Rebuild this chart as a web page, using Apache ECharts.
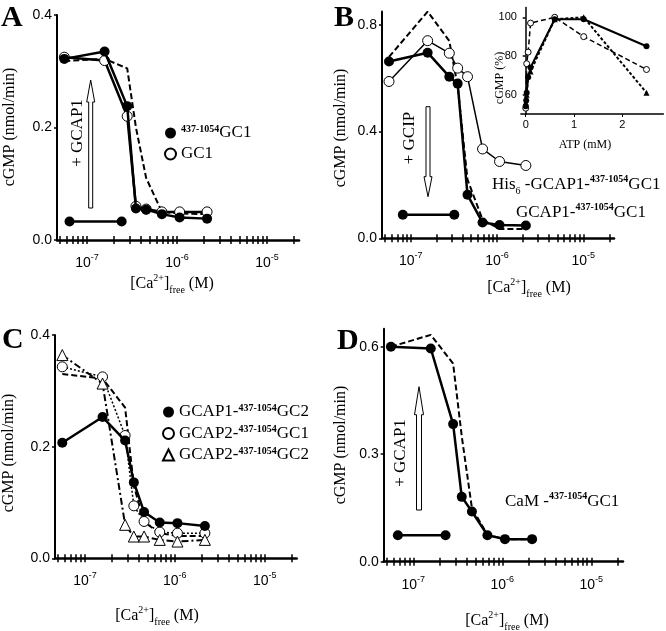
<!DOCTYPE html>
<html>
<head>
<meta charset="utf-8">
<script src="https://cdn.jsdelivr.net/npm/echarts@6/dist/echarts.min.js"></script>
<style>
html, body { margin: 0; padding: 0; background: #fff; }
#chart { width: 666px; height: 631px; }
</style>
</head>
<body>
<div id="chart"></div>
<script>
// free Ca2+ (M), shared by the four dose-response panels
var caFree = [5.6e-8, 1.57e-7, 2.8e-7, 3.5e-7, 4.55e-7, 6.8e-7, 1.07e-6, 2.16e-6];

// panel A
var aTruncGC1 = [0.322, 0.335, 0.238, 0.056, 0.054, 0.046, 0.040, 0.038];
var aGC1 = [0.325, 0.319, 0.220, 0.060, 0.055, 0.050, 0.050, 0.050];
var aDashed = [0.318, 0.322, 0.305, 0.200, 0.110, 0.050, 0.047, 0.046];
var aNoGcapCa = [6.4e-8, 2.43e-7];
var aNoGcap = [0.033, 0.033];

// panel B
var bGcap1 = [0.663, 0.696, 0.606, 0.580, 0.163, 0.059, 0.050, 0.048];
var bHis6 = [0.588, 0.741, 0.694, 0.638, 0.606, 0.335, 0.288, 0.273];
var bDashed = [0.680, 0.850, 0.740, 0.570, 0.220, 0.070, 0.035, 0.035];
var bNoGcipCa = [8.1e-8, 3.2e-7];
var bNoGcip = [0.088, 0.088];

// panel B inset: ATP (mM) vs cGMP (%)
var atpFilled = [0, 0.01, 0.02, 0.05, 0.1, 0.6, 1.2, 2.5];
var insetFilled = [54, 57, 61, 69, 74, 99, 99, 85];
var atpOpen = [0, 0.02, 0.05, 0.1, 0.6, 1.2, 2.5];
var insetOpen = [53, 76, 82, 97, 100, 90, 73];
var atpTri = [0, 0.02, 0.05, 0.1, 0.6, 1.2, 2.5];
var insetTri = [56, 60, 70, 72, 99, 100, 61];

// panel C
var cGcap1GC2 = [0.207, 0.253, 0.211, 0.136, 0.083, 0.064, 0.063, 0.058];
var cGcap2GC1 = [0.343, 0.325, 0.220, 0.094, 0.066, 0.047, 0.045, 0.045];
var cGcap2GC2 = [0.364, 0.313, 0.060, 0.039, 0.039, 0.033, 0.030, 0.033];
var cDashed = [0.330, 0.322, 0.270, 0.130, 0.065, 0.045, 0.040, 0.040];

// panel D
var dCaM = [0.600, 0.595, 0.384, 0.181, 0.140, 0.074, 0.063, 0.063];
var dDashed = [0.600, 0.633, 0.553, 0.350, 0.150, 0.075, 0.063, 0.063];
var dNoGcapCa = [6.7e-8, 2.3e-7];
var dNoGcap = [0.074, 0.074];

// tick labels
var decades = [-7, -6, -5];
var yLabelsA = [0, 0.2, 0.4];
var yLabelsB = [0, 0.4, 0.8];
var yLabelsC = [0, 0.2, 0.4];
var yLabelsD = [0, 0.3, 0.6];
var insetXLabels = [0, 1, 2];
var insetYLabels = [60, 80, 100];

var SERIF = '"Liberation Serif", "Times New Roman", serif';
var SANS = '"Liberation Sans", Arial, sans-serif';

var LOG_MIN = -7.333, LOG_MAX = -4.644;

var logTicks = [];
for (var k = -8; k <= -5; k++) {
  for (var m = 1; m <= 9; m++) {
    var t = k + Math.log10(m);
    if (t > LOG_MIN + 0.02 && t < LOG_MAX) logTicks.push(t);
  }
}

function pts(xs, ys, log) {
  return xs.map(function (x, i) { return [log ? Math.log10(x) : x, ys[i]]; });
}

var richText = {
  n: { fontFamily: SERIF, fontSize: 16, lineHeight: 22, color: '#000' },
  m: { fontFamily: SERIF, fontSize: 17, lineHeight: 22, color: '#000' },
  sup: { fontFamily: SERIF, fontSize: 10, fontWeight: 'bold', lineHeight: 11, verticalAlign: 'top', color: '#000' },
  sp: { fontFamily: SERIF, fontSize: 10, lineHeight: 11, verticalAlign: 'top', color: '#000' },
  sub: { fontFamily: SERIF, fontSize: 10, lineHeight: 11, verticalAlign: 'bottom', color: '#000' }
};

function xAxes(grid) {
  return [{
    gridIndex: grid, type: 'value', position: 'bottom', min: LOG_MIN, max: LOG_MAX,
    axisLine: { lineStyle: { color: '#000', width: 2.5 } },
    axisTick: { customValues: logTicks, length: 4, lineStyle: { color: '#000', width: 1.5 } },
    axisLabel: {
      customValues: decades, margin: 13,
      formatter: function (v) { return '{b|10}{e|' + Math.round(v) + '}'; },
      rich: {
        b: { fontFamily: SANS, fontSize: 14, lineHeight: 20, color: '#000' },
        e: { fontFamily: SANS, fontSize: 9, lineHeight: 11, verticalAlign: 'top', color: '#000' }
      }
    },
    splitLine: { show: false }
  }, {
    gridIndex: grid, type: 'value', position: 'bottom', min: LOG_MIN, max: LOG_MAX,
    axisLine: { show: false },
    axisTick: { inside: true, customValues: logTicks, length: 4, lineStyle: { color: '#000', width: 1.5 } },
    axisLabel: { show: false },
    splitLine: { show: false }
  }];
}

function yAxis(grid, min, max, labels, digits, fs) {
  return {
    gridIndex: grid, type: 'value', min: min, max: max,
    axisLine: { show: true, lineStyle: { color: '#000', width: 2 } },
    axisTick: { show: true, customValues: labels, length: 3, lineStyle: { color: '#000', width: 1.5 } },
    axisLabel: {
      customValues: labels, margin: 5, color: '#000', fontFamily: SANS, fontSize: fs || 14,
      formatter: function (v) { return v.toFixed(digits); }
    },
    splitLine: { show: false }
  };
}

function filled(name, xi, yi, data, z) {
  return {
    name: name, type: 'line', xAxisIndex: xi, yAxisIndex: yi, data: data,
    symbol: 'circle', symbolSize: 10, z: z || 5,
    itemStyle: { color: '#000' },
    lineStyle: { color: '#000', width: 2.5 }, animation: false
  };
}
function open(name, xi, yi, data, lineType, width, symbol, size, z) {
  return {
    name: name, type: 'line', xAxisIndex: xi, yAxisIndex: yi, data: data,
    symbol: symbol || 'circle', symbolSize: size || 10, z: z || 4,
    itemStyle: { color: '#fff', borderColor: '#000', borderWidth: 1 },
    lineStyle: { color: '#000', width: width || 2, type: lineType || 'solid' }, animation: false
  };
}
function dashed(name, xi, yi, data) {
  return {
    name: name, type: 'line', xAxisIndex: xi, yAxisIndex: yi, data: data,
    showSymbol: false, z: 2,
    lineStyle: { color: '#000', width: 2, type: [6, 3] }, animation: false
  };
}

function txt(x, y, text, extra) {
  var style = { text: text, x: x, y: y, fill: '#000', fontFamily: SERIF, fontSize: 16, rich: richText,
    align: 'left', verticalAlign: 'middle' };
  for (var key in (extra || {})) style[key] = extra[key];
  return { type: 'text', style: style, z: 50 };
}
function rotTxt(x, y, text) {
  return { type: 'text', x: x, y: y, rotation: Math.PI / 2, z: 50,
    style: { text: text, x: 0, y: 0, fill: '#000', fontFamily: SERIF, fontSize: 16, rich: richText,
      align: 'center', verticalAlign: 'middle' } };
}
function arrow(cx, tipY, baseY, hl, hw, sw) {
  var d = baseY > tipY ? 1 : -1;
  var hy = tipY + d * hl;
  return { type: 'polygon', z: 40,
    shape: { points: [[cx, tipY], [cx + hw, hy], [cx + sw, hy], [cx + sw, baseY], [cx - sw, baseY], [cx - sw, hy], [cx - hw, hy]] },
    style: { fill: '#fff', stroke: '#000', lineWidth: 1 } };
}

var caName = '{n|[Ca}{sp|2+}{n|]}{sub|free}{n| (M)}';
var yName = '{n|cGMP (nmol/min)}';
var letter = { fontFamily: SERIF, fontSize: 30, fontWeight: 'bold', verticalAlign: 'top' };

var legendRich = {
  n: { fontFamily: SERIF, fontSize: 17, color: '#000', lineHeight: 18 },
  sup: { fontFamily: SERIF, fontSize: 10, fontWeight: 'bold', color: '#000', lineHeight: 10, verticalAlign: 'top' }
};
var legendLabels = {
  aTrunc: '{sup|437-1054}{n|GC1}',
  aGC1: '{n|GC1}',
  cG1G2: '{n|GCAP1-}{sup|437-1054}{n|GC2}',
  cG2G1: '{n|GCAP2-}{sup|437-1054}{n|GC1}',
  cG2G2: '{n|GCAP2-}{sup|437-1054}{n|GC2}'
};

var chart = echarts.init(document.getElementById('chart'), null, { renderer: 'canvas' });
chart.setOption({
  backgroundColor: '#fff',
  animation: false,
  grid: [
    { left: 57, top: 15, width: 242, height: 225 },
    { left: 382, top: 11.6, width: 232, height: 226.7 },
    { left: 55, top: 335, width: 241.7, height: 223.3 },
    { left: 383.7, top: 328.8, width: 239.3, height: 232.9 },
    { left: 520.9, top: 7.6, width: 142.5, height: 106.4 }
  ],
  xAxis: xAxes(0).concat(xAxes(1), xAxes(2), xAxes(3), [{
    gridIndex: 4, type: 'value', min: -0.1, max: 2.85,
    axisLine: { lineStyle: { color: '#000', width: 1.5 } },
    axisTick: { customValues: insetXLabels, length: 3, lineStyle: { color: '#000' } },
    axisLabel: { customValues: insetXLabels, margin: 5, color: '#000', fontFamily: SANS, fontSize: 11 },
    splitLine: { show: false }
  }]),
  yAxis: [
    yAxis(0, 0, 0.4, yLabelsA, 1),
    yAxis(1, 0, 0.85, yLabelsB, 1),
    yAxis(2, 0, 0.4, yLabelsC, 1),
    yAxis(3, 0, 0.65, yLabelsD, 1),
    (function () {
      var a = yAxis(4, 50, 105, insetYLabels, 0, 11);
      a.axisLine.lineStyle.width = 1.5;
      a.axisLabel.margin = 4;
      return a;
    })()
  ],
  legend: [{
    left: 159, top: 119, orient: 'vertical', itemWidth: 11, itemHeight: 11, itemGap: 4,
    selectedMode: false,
    data: [{ name: 'aTrunc', icon: 'circle' }, { name: 'aGC1', icon: 'circle' }],
    formatter: function (n) { return legendLabels[n]; },
    textStyle: { rich: legendRich }
  }, {
    left: 157, top: 398, orient: 'vertical', itemWidth: 11, itemHeight: 11, itemGap: 4,
    selectedMode: false,
    data: [{ name: 'cG1G2', icon: 'circle' }, { name: 'cG2G1', icon: 'circle' }, { name: 'cG2G2', icon: 'triangle' }],
    formatter: function (n) { return legendLabels[n]; },
    textStyle: { rich: legendRich }
  }],
  series: [
    // A
    dashed('aRef', 0, 0, pts(caFree, aDashed, true)),
    open('aGC1', 0, 0, pts(caFree, aGC1, true), 'solid', 2.5),
    filled('aTrunc', 0, 0, pts(caFree, aTruncGC1, true)),
    filled('aCtrl', 0, 0, pts(aNoGcapCa, aNoGcap, true)),
    // B
    dashed('bRef', 2, 1, pts(caFree, bDashed, true)),
    open('bHis6', 2, 1, pts(caFree, bHis6, true), 'solid', 1.5),
    filled('bGcap1', 2, 1, pts(caFree, bGcap1, true)),
    filled('bCtrl', 2, 1, pts(bNoGcipCa, bNoGcip, true)),
    // C
    dashed('cRef', 4, 2, pts(caFree, cDashed, true)),
    open('cG2G1', 4, 2, pts(caFree, cGcap2GC1, true), [2, 2], 1.5),
    open('cG2G2', 4, 2, pts(caFree, cGcap2GC2, true), [7, 3, 2, 3], 2, 'triangle', 11),
    filled('cG1G2', 4, 2, pts(caFree, cGcap1GC2, true)),
    // D
    dashed('dRef', 6, 3, pts(caFree, dDashed, true)),
    filled('dCaM', 6, 3, pts(caFree, dCaM, true)),
    filled('dCtrl', 6, 3, pts(dNoGcapCa, dNoGcap, true)),
    // inset
    {
      name: 'insOpen', type: 'line', xAxisIndex: 8, yAxisIndex: 4, data: pts(atpOpen, insetOpen),
      symbol: 'circle', symbolSize: 6, z: 4,
      itemStyle: { color: '#fff', borderColor: '#000', borderWidth: 1 },
      lineStyle: { color: '#000', width: 1.5, type: [5, 3] }
    },
    {
      name: 'insTri', type: 'line', xAxisIndex: 8, yAxisIndex: 4, data: pts(atpTri, insetTri),
      symbol: 'triangle', symbolSize: 6, z: 4,
      itemStyle: { color: '#000' },
      lineStyle: { color: '#000', width: 2, type: [3, 2] }
    },
    {
      name: 'insFilled', type: 'line', xAxisIndex: 8, yAxisIndex: 4, data: pts(atpFilled, insetFilled),
      symbol: 'circle', symbolSize: 6, z: 5,
      itemStyle: { color: '#000' },
      lineStyle: { color: '#000', width: 2 }
    }
  ],
  graphic: [
    txt(1, 3, 'A', letter),
    txt(334, 3, 'B', letter),
    txt(2, 325, 'C', letter),
    txt(337, 326, 'D', letter),
    // axis names
    txt(172, 284, caName, { align: 'center' }),
    txt(529, 288, caName, { align: 'center' }),
    txt(157, 616, caName, { align: 'center' }),
    txt(507, 621, caName, { align: 'center' }),
    rotTxt(10, 127, yName),
    rotTxt(341, 128, yName),
    rotTxt(9, 453, yName),
    rotTxt(341, 445, yName),
    // inset axis names
    { type: 'text', x: 500, y: 78, rotation: Math.PI / 2, z: 50,
      style: { text: 'cGMP (%)', x: 0, y: 0, fill: '#000', fontFamily: SERIF, fontSize: 12, align: 'center', verticalAlign: 'middle' } },
    txt(585, 145, 'ATP (mM)', { fontSize: 12, align: 'center', rich: null }),
    // arrows and their captions
    arrow(90.7, 80, 208, 22, 4, 2),
    rotTxt(78, 133, '{m|+ GCAP1}'),
    arrow(428, 196.7, 106.7, 20, 4, 2),
    rotTxt(410, 138, '{m|+ GCIP}'),
    arrow(419, 386.7, 510, 28, 4.5, 2.5),
    rotTxt(401, 453, '{m|+ GCAP1}'),
    // curve annotations
    txt(492, 185, '{m|His}{sub|6}{m| -GCAP1-}{sup|437-1054}{m|GC1}'),
    txt(516, 213, '{m|GCAP1-}{sup|437-1054}{m|GC1}'),
    txt(505, 502, '{m|CaM -}{sup|437-1054}{m|GC1}')
  ]
});
</script>
</body>
</html>
